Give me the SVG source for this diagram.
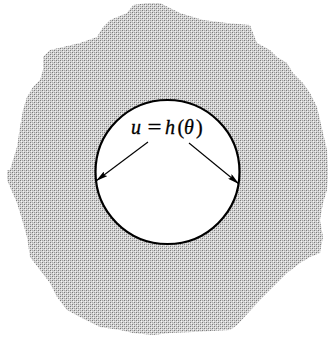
<svg xmlns="http://www.w3.org/2000/svg" width="329" height="339" viewBox="0 0 329 339">
<style>
.conn{stroke:#000;stroke-width:1.1;fill:none;marker-end:url(#ah)}
.m{font-family:"Liberation Serif","DejaVu Serif",serif;font-size:20px;fill:#000;stroke:#000;stroke-width:0.3}
.i{font-style:italic}
</style>
<defs>
<pattern id="stip" width="4" height="4" patternUnits="userSpaceOnUse">
<rect width="4" height="4" fill="#d4d4d4"/>
<rect x="0" y="0" width="1" height="1" fill="#7a7a7a"/>
<rect x="2" y="2" width="1" height="1" fill="#7a7a7a"/>
<rect x="2" y="0" width="1" height="1" fill="#a0a0a0"/>
<rect x="0" y="2" width="1" height="1" fill="#a8a8a8"/>
<rect x="1" y="1" width="1" height="1" fill="#f4f4f4"/>
<rect x="3" y="3" width="1" height="1" fill="#f0f0f0"/>
</pattern>
<marker id="ah" viewBox="0 0 12 6" refX="12" refY="3" markerWidth="12" markerHeight="6" markerUnits="userSpaceOnUse" orient="auto">
<path d="M0,0 L12,3 L0,6 L2,3 Z" fill="#000"/>
</marker>
</defs>
<g id="region">
<path fill="url(#stip)" d="M133,5 L147,3 L160,3 L180,13 L203,20 L227,23 L250,25 L253,33 L257,43 L270,50 L277,57 L287,63 L293,73 L303,83 L310,93 L317,107 L320,120 L323,133 L327,150 L328,167 L328,177 L327,190 L323,203 L320,220 L323,237 L320,253 L310,257 L300,263 L287,273 L260,300 L237,325 L230,330 L193,332 L170,333 L153,335 L133,333 L120,330 L100,327 L80,317 L67,310 L57,297 L50,283 L40,270 L30,257 L27,237 L23,223 L17,203 L7,180 L7,170 L10,170 L13,160 L17,147 L20,127 L23,110 L27,97 L33,87 L40,80 L43,70 L43,57 L50,50 L63,47 L80,43 L97,37 L103,27 L110,20 L127,13 Z"/>
</g>
<g id="hole">
<circle cx="167.5" cy="172" r="72" fill="#fff" stroke="#000" stroke-width="2.2"/>
</g>
<g id="label">
<text class="m i" x="131" y="133.5">u</text>
<text class="m" x="147.5" y="133.5" textLength="14" lengthAdjust="spacingAndGlyphs">=</text>
<text class="m i" x="165" y="133.5">h</text>
<text class="m" x="177.5" y="133.5">(</text>
<text class="m i" x="184" y="133.5">θ</text>
<text class="m" x="196" y="133.5">)</text>
</g>
<g id="connectors">
<line class="conn" x1="148" y1="142" x2="96" y2="181"/>
<line class="conn" x1="189" y1="143" x2="239" y2="184"/>
</g>
</svg>
